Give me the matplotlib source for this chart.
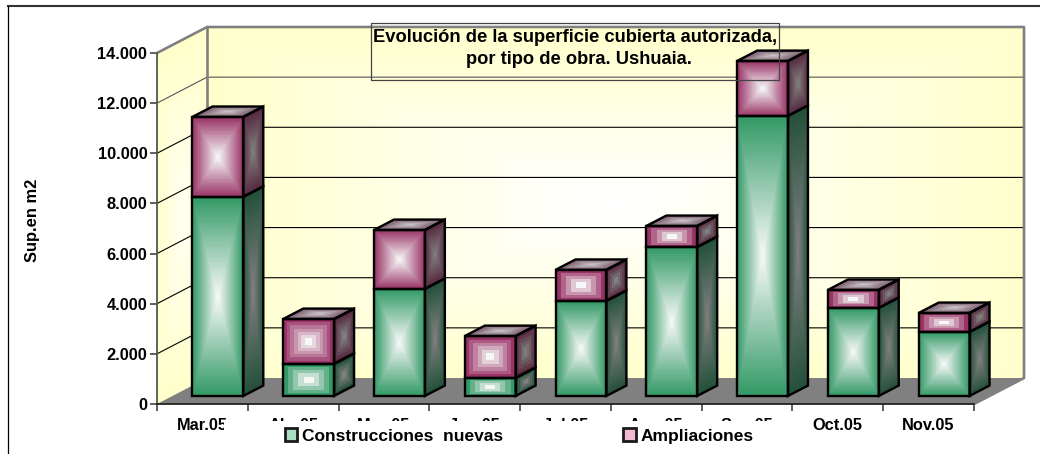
import matplotlib
matplotlib.use('Agg')
import matplotlib.pyplot as plt
from matplotlib.colors import LinearSegmentedColormap
from matplotlib.lines import Line2D
from matplotlib.patches import Patch, Polygon, Rectangle
import numpy as np

meses = ['Mar.05', 'Abr.05', 'May.05', 'Jun.05', 'Jul.05', 'Ago.05', 'Sep.05', 'Oct.05', 'Nov.05']
nuevas = [7940, 1280, 4270, 720, 3790, 5940, 11170, 3510, 2550]
ampliaciones = [3190, 1790, 2350, 1670, 1240, 840, 2190, 720, 760]
ticks_y = [0, 2000, 4000, 6000, 8000, 10000, 12000, 14000]
etiquetas_y = ['0', '2.000', '4.000', '6.000', '8.000', '10.000', '12.000', '14.000']

W, H = 1040, 454
# plano frontal del grafico, en pixeles
X0, X1, Y0, Y1 = 157, 974, 404, 53
DX, DY = 50, 26  # profundidad de las paredes

plt.rcParams['font.family'] = ['Liberation Sans', 'DejaVu Sans']
plt.rcParams['font.weight'] = 'bold'

fig = plt.figure(figsize=(W / 100, H / 100), dpi=100)
ax = fig.add_axes([X0 / W, 1 - Y0 / H, (X1 - X0) / W, (Y0 - Y1) / H])
ax.set_xlim(0, len(meses))
ax.set_ylim(0, 14000)
ax.patch.set_visible(False)

prof_x = DX / (X1 - X0) * len(meses)
prof_y = DY / (Y0 - Y1) * 14000


def proy(x, y, d):
    return x + d * prof_x, y + d * prof_y


def degradado(p0, p1, p3, c_borde, c_centro, n, z):
    # cara en paralelogramo: p0 esquina, p1 y p3 los dos lados
    cmap = LinearSegmentedColormap.from_list('g', [c_centro, c_borde])
    u = np.linspace(0, 1, 121)
    v = np.linspace(0, 1, 241)
    uu, vv = np.meshgrid(u, v)
    xs = p0[0] + uu * (p1[0] - p0[0]) + vv * (p3[0] - p0[0])
    ys = p0[1] + uu * (p1[1] - p0[1]) + vv * (p3[1] - p0[1])
    uc = (u[:-1] + u[1:]) / 2
    vc = (v[:-1] + v[1:]) / 2
    t = np.maximum.outer(np.abs(vc - 0.5), np.abs(uc - 0.5)) * 2
    t = (np.ceil(t * n) - 1) / (n - 1)
    ax.pcolormesh(xs, ys, t, cmap=cmap, vmin=0, vmax=1, shading='flat', zorder=z,
                  clip_on=False, rasterized=True)


def caja(x, y, ancho, alto, colores, z, tapa):
    c_frente, c_lado, c_tapa = colores
    d0, d1 = 0.31, 0.71
    a = proy(x, y, d0)
    b = proy(x + ancho, y, d0)
    c = proy(x + ancho, y + alto, d0)
    e = proy(x, y + alto, d0)
    b2 = proy(x + ancho, y, d1)
    c2 = proy(x + ancho, y + alto, d1)
    e2 = proy(x, y + alto, d1)
    px = alto / 14000 * (Y0 - Y1)
    # las cajas chicas muestran las bandas del degradado
    n = int(max(5, px / 6)) if px < 50 else 50
    degradado(a, b, e, c_frente, '#f6f8f7', n, z)
    degradado(b, b2, c, c_lado, '#808080', n, z)
    caras = [[a, b, c, e], [b, b2, c2, c]]
    if tapa:
        degradado(e, c, e2, c_tapa, '#c6c1c4', 8, z)
        caras.append([e, c, c2, e2])
    for pts in caras:
        ax.add_patch(Polygon(pts, closed=True, fill=False, ec='black', lw=1.7,
                             joinstyle='miter', zorder=z + 0.5, clip_on=False))


# paredes
degradado(proy(0, 0, 1), proy(len(meses), 0, 1), proy(0, 14000, 1), '#ffffcc', '#ffffff', 40, 1)
degradado(proy(0, 0, 0), proy(0, 0, 1), proy(0, 14000, 0), '#ffffcc', '#fffff0', 12, 1)
ax.add_patch(Polygon([proy(0, 0, 0), proy(len(meses), 0, 0), proy(len(meses), 0, 1), proy(0, 0, 1)],
                     closed=True, fc='#808080', ec='none', zorder=1.5, clip_on=False))

# rejilla
for v in ticks_y[1:-1]:
    color = '#555555' if v == 12000 else 'black'
    a, b = proy(0, v, 0), proy(0, v, 1)
    c = proy(len(meses), v, 1)
    ax.plot([a[0], b[0], c[0]], [a[1], b[1], c[1]], color=color, lw=0.8, zorder=2, clip_on=False)

# borde gris de las paredes
a, b = proy(0, 14000, 0), proy(0, 14000, 1)
c, d = proy(len(meses), 14000, 1), proy(len(meses), 0, 1)
e, f = proy(len(meses), 0, 0), proy(0, 0, 1)
ax.plot([a[0], b[0], c[0], d[0], e[0]], [a[1], b[1], c[1], d[1], e[1]], color='#808080', lw=1.9,
        zorder=2.2, clip_on=False)
ax.plot([b[0], f[0]], [b[1], f[1]], color='#808080', lw=1.9, zorder=2.2, clip_on=False)

verde = ('#339966', '#24503a', '#7f6070')
rosa = ('#993366', '#55283e', '#7f6070')
ancho = 0.56
for i in range(len(meses)):
    x = i + (1 - ancho) / 2
    caja(x, 0, ancho, nuevas[i], verde, 3, False)
    caja(x, nuevas[i], ancho, ampliaciones[i], rosa, 3.1, True)

# ejes
for s in ('top', 'right'):
    ax.spines[s].set_visible(False)
ax.spines['left'].set_color('#555555')
ax.spines['bottom'].set_color('#222222')
for s in ('left', 'bottom'):
    ax.spines[s].set_linewidth(1.3)
    ax.spines[s].set_zorder(4)
ax.set_yticks(ticks_y)
ax.set_yticklabels(etiquetas_y, fontsize=11.8, fontweight='bold')
ax.set_xticks(np.arange(len(meses) + 1))
ax.set_xticklabels([])
ax.set_xticks(np.arange(len(meses)) + 0.5, minor=True)
ax.set_xticklabels(meses, minor=True, fontsize=11.8, fontweight='bold')
ax.tick_params(axis='x', which='minor', length=0, pad=10)
ax.tick_params(axis='both', which='major', length=5, width=1.1, color='#333333')
ax.tick_params(axis='y', pad=2)

fig.text(33 / W, 1 - 220 / H, 'Sup.en m2', rotation=90, ha='center', va='center',
         fontsize=11.9, fontweight='bold')

# titulo
fig.add_artist(Rectangle((371 / W, 1 - 80 / H), 408 / W, 57 / H, transform=fig.transFigure,
                         fill=False, ec='#444444', lw=0.9, zorder=10))
fig.text(575 / W, 1 - 37 / H, 'Evolución de la superficie cubierta autorizada,', ha='center', va='center',
         fontsize=13.2, fontweight='bold', zorder=11)
fig.text(579 / W, 1 - 60 / H, 'por tipo de obra. Ushuaia.', ha='center', va='center',
         fontsize=13.2, fontweight='bold', zorder=11)

# fondo blanco de la leyenda, tapa parte de las etiquetas
fig.add_artist(Rectangle((224 / W, 1 - 446 / H), 566 / W, 25 / H, transform=fig.transFigure,
                         fc='white', ec='none', zorder=8))

# leyenda
handles = [Patch(fc='#a9dfc0', ec='#1a1a1a', lw=2), Patch(fc='#f3b9d2', ec='#1a1a1a', lw=2)]
leg = fig.legend(handles, ['Construcciones  nuevas', 'Ampliaciones'], ncol=2, loc='center',
                 bbox_to_anchor=(519 / W, 1 - 436 / H), frameon=False, fontsize=12.5, handlelength=0.72,
                 handleheight=0.72, handletextpad=0.25, columnspacing=6.95, borderpad=0, borderaxespad=0)
leg.set_zorder(9)

# marco exterior: solo arriba y a la izquierda
fig.add_artist(Line2D([7.5 / W, 1], [1 - 5.5 / H, 1 - 5.5 / H], color='#333333', lw=1.5, zorder=12))
fig.add_artist(Line2D([7.5 / W, 7.5 / W], [0, 1 - 5.5 / H], color='black', lw=0.9, zorder=12))

fig.savefig('out.png', dpi=100)
